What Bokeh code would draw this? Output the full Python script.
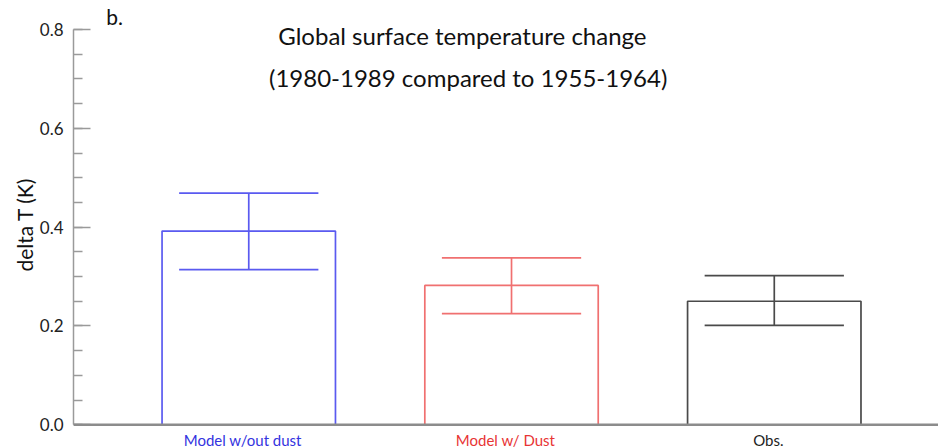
import math
from bokeh.plotting import figure
from bokeh.models import (Range1d, SingleIntervalTicker, PrintfTickFormatter, Label,
                          LabelSet, ColumnDataSource, Span)
from bokeh.embed import file_html
from bokeh.resources import INLINE
from bokeh.core.properties import value

# ---- data ----
categories = ["Model w/out dust", "Model w/ Dust", "Obs."]
positions = [1, 2, 3]
delta_t = [0.392, 0.282, 0.250]
err_high = [0.469, 0.338, 0.302]
err_low = [0.314, 0.225, 0.201]
bar_colors = ["#5a5af0", "#f07070", "#4a4a4a"]
label_colors = ["#3434e0", "#e83434", "#1e1e1e"]
title_lines = ["Global surface temperature change", "(1980-1989 compared to 1955-1964)"]
panel_tag = "b."
y_label = "delta T (K)"
y_axis_bounds = (0.0, 0.8)

FONT = "Lato"
bar_width = 0.66
cap_width = 0.53

p = figure(width=938, height=448,
           x_range=Range1d(0.333, 3.625), y_range=Range1d(-0.048, 0.8587),
           output_backend="svg", toolbar_location=None,
           min_border_left=73, min_border_right=0, min_border_top=0, min_border_bottom=0)
p.outline_line_color = None
p.xgrid.grid_line_color = None
p.ygrid.grid_line_color = None
p.background_fill_color = "white"
p.border_fill_color = "white"
p.xaxis.visible = False

# baseline at zero
p.add_layout(Span(location=0, dimension="width", line_color="#8c8c8c", line_width=2.5))

# y axis
p.yaxis.bounds = y_axis_bounds
p.yaxis.ticker = SingleIntervalTicker(interval=0.2, num_minor_ticks=4)
p.yaxis.formatter = PrintfTickFormatter(format="%.1f")
p.yaxis.major_tick_in = 17
p.yaxis.major_tick_out = 0
p.yaxis.minor_tick_in = 9
p.yaxis.minor_tick_out = 0
p.yaxis.major_tick_line_color = "#9a9a9a"
p.yaxis.minor_tick_line_color = "#9a9a9a"
p.yaxis.major_tick_line_width = 1.5
p.yaxis.minor_tick_line_width = 1.5
p.yaxis.axis_line_color = "#9a9a9a"
p.yaxis.axis_line_width = 1.5
p.yaxis.major_label_text_font = FONT
p.yaxis.major_label_text_font_size = "17px"
p.yaxis.major_label_text_color = "#222222"
p.yaxis.major_label_standoff = 10
p.yaxis.axis_label = y_label
p.yaxis.axis_label_text_font = FONT
p.yaxis.axis_label_text_font_size = "21px"
p.yaxis.axis_label_text_font_style = "normal"
p.yaxis.axis_label_text_color = "#111111"
p.yaxis.axis_label_standoff = 0

src = ColumnDataSource(dict(
    x=positions, top=delta_t, hi=err_high, lo=err_low, color=bar_colors,
    cap_l=[x - cap_width / 2 for x in positions],
    cap_r=[x + cap_width / 2 for x in positions],
))

p.vbar(x="x", top="top", bottom=0, width=bar_width, source=src,
       fill_color=None, line_color="color", line_width=1.7)
p.segment(x0="x", y0="lo", x1="x", y1="hi", source=src, line_color="color", line_width=1.7)
p.segment(x0="cap_l", y0="hi", x1="cap_r", y1="hi", source=src, line_color="color", line_width=1.7)
p.segment(x0="cap_l", y0="lo", x1="cap_r", y1="lo", source=src, line_color="color", line_width=1.7)

lab_src = ColumnDataSource(dict(x=positions, y=[0] * len(positions), text=categories, color=label_colors))
p.add_layout(LabelSet(x="x", y="y", text="text", source=lab_src, text_color="color",
                      text_font=value(FONT), text_font_size="15px", text_align="center",
                      text_baseline="middle", y_offset=-15, x_offset=-6))

p.add_layout(Label(x=1.813, y=0.788, text=title_lines[0], text_font=FONT,
                   text_font_size="24px", text_align="center", text_baseline="middle",
                   text_color="#111111"))
p.add_layout(Label(x=1.835, y=0.703, text=title_lines[1], text_font=FONT,
                   text_font_size="24px", text_align="center", text_baseline="middle",
                   text_color="#111111"))
p.add_layout(Label(x=0.458, y=0.826, text=panel_tag, text_font=FONT,
                   text_font_size="21px", text_align="left", text_baseline="middle",
                   text_color="#111111"))

open("out.html", "w").write(file_html(p, INLINE))
